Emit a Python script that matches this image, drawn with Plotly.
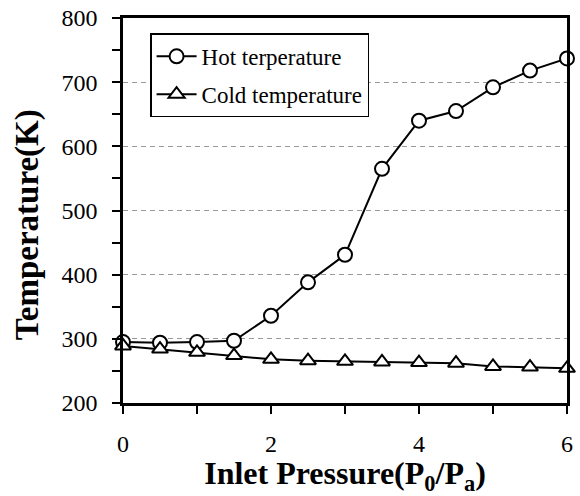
import plotly.graph_objects as go

pressure = [0, 0.5, 1, 1.5, 2, 2.5, 3, 3.5, 4, 4.5, 5, 5.5, 6]
hot_temp = [295, 294, 295, 297, 336, 388, 431, 565, 640, 655, 692, 718, 737]
cold_temp = [289, 284, 279, 274, 268, 266, 265, 264, 263, 262, 257, 256, 254]

hot_name = "Hot terperature"
cold_name = "Cold temperature"
x_title = "<b>Inlet Pressure(P<sub>0</sub>/P<sub>a</sub>)</b>"
y_title = "<b>Temperature(K)</b>"

FONT = "Liberation Serif"

fig = go.Figure()
fig.add_trace(go.Scatter(
    x=pressure, y=hot_temp, name=hot_name, mode="lines+markers",
    line=dict(color="black", width=2),
    marker=dict(symbol="circle", size=14, color="white", line=dict(color="black", width=2)),
    cliponaxis=False, legendgroup="a",
))
fig.add_trace(go.Scatter(
    x=pressure, y=cold_temp, name=cold_name, mode="lines+markers",
    line=dict(color="black", width=2),
    marker=dict(symbol="triangle-up", size=14, color="white", line=dict(color="black", width=2)),
    cliponaxis=False, legendgroup="b",
))

fig.update_layout(
    width=580, height=496,
    margin=dict(l=123, r=13, t=18, b=93),
    paper_bgcolor="white", plot_bgcolor="white",
    font=dict(family=FONT, color="black", size=22),
    showlegend=True,
    legend=dict(
        x=0.061, y=0.96, xanchor="left", yanchor="top",
        bordercolor="black", borderwidth=1.5, bgcolor="white",
        font=dict(family=FONT, size=23, color="black"),
        tracegroupgap=5, itemwidth=40,
    ),
    annotations=[dict(
        text=y_title, textangle=-90, xref="paper", yref="paper",
        x=-0.216, y=0.462, xanchor="center", yanchor="middle", showarrow=False,
        font=dict(family=FONT, size=33, color="black"),
    )],
)

fig.update_xaxes(
    range=[0, 6], tickvals=[0, 2, 4, 6], ticktext=["0", "2", "4", "6"],
    showline=True, linecolor="black", linewidth=2.5, mirror=True,
    ticks="outside", ticklen=8, tickwidth=2, tickcolor="black",
    minor=dict(dtick=1, ticks="outside", ticklen=8, tickwidth=2, tickcolor="black", showgrid=False),
    showgrid=False, zeroline=False, automargin=False,
    tickfont=dict(family=FONT, size=24, color="black"),
    ticklabelstandoff=9,
    title=dict(text=x_title, font=dict(family=FONT, size=32, color="black"), standoff=14),
)
fig.update_yaxes(
    range=[200, 800], dtick=100,
    showline=True, linecolor="black", linewidth=2.5, mirror=True,
    ticks="outside", ticklen=8, tickwidth=2, tickcolor="black",
    minor=dict(dtick=50, ticks="outside", ticklen=8, tickwidth=2, tickcolor="black", showgrid=False),
    showgrid=True, gridcolor="#9a9a9a", gridwidth=1, griddash="5px,4px",
    zeroline=False, automargin=False,
    tickfont=dict(family=FONT, size=24, color="black"),
    ticklabelstandoff=10,
)

fig.write_html("out.html")
